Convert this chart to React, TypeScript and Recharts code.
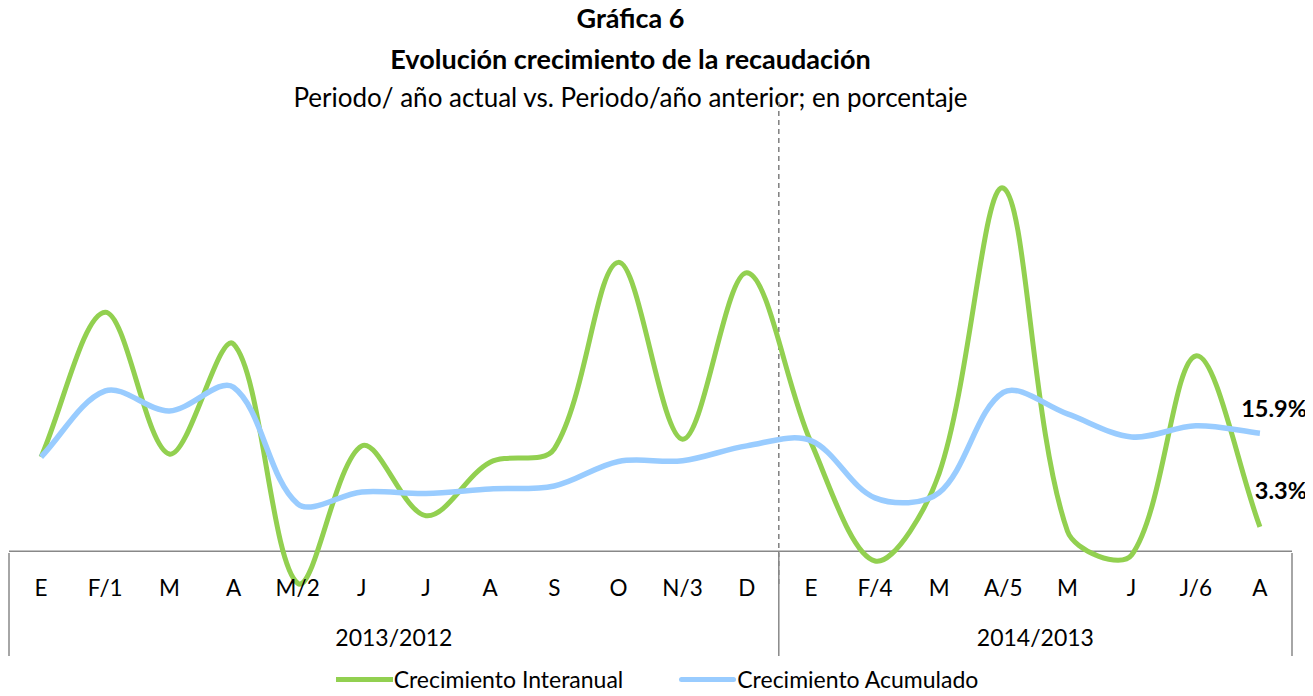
import React from "react";
import { LineChart, Line, XAxis, YAxis, ReferenceLine, Legend } from "recharts";

const months = ["E", "F/1", "M", "A", "M/2", "J", "J", "A", "S", "O", "N/3", "D", "E", "F/4", "M", "A/5", "M", "J", "J/6", "A"];
const yearGroups = ["2013/2012", "2014/2013"];
const groupSizes = [12, 8];
const interanual = [12.7, 32.2, 13.1, 27.9, -4.3, 14.2, 4.8, 12.0, 13.8, 38.9, 15.1, 37.5, 14.7, -1.3, 10.5, 48.9, 2.7, -0.5, 26.3, 3.3];
const acumulado = [12.7, 21.6, 18.9, 22.1, 6.4, 8.0, 7.8, 8.4, 8.8, 12.1, 12.2, 14.2, 14.9, 7.2, 7.9, 21.4, 18.5, 15.4, 16.9, 15.9];

const data = months.map((m, i) => ({
    key: String(i),
    interanual: interanual[i],
    acumulado: acumulado[i],
}));

const W = 1313;
const H = 696;
const MARGIN = { top: 96, right: 21, left: 9, bottom: 0 };
const BW = (W - MARGIN.left - MARGIN.right) / months.length;
const FONT = "Lato, 'Open Sans', sans-serif";
const GREEN = "#92D050";
const BLUE = "#99CCFF";
const GRID = "#888888";

// Excel-like smoothing: bezier through every point, tangents scaled by chord lengths
const excelCurve = (context: any) => {
    let xs: number[] = [];
    let ys: number[] = [];
    return {
        areaStart() {},
        areaEnd() {},
        lineStart() {
            xs = [];
            ys = [];
        },
        point(x: number, y: number) {
            xs.push(+x);
            ys.push(+y);
        },
        lineEnd() {
            const n = xs.length;
            if (!n) return;
            const d = (a: number, b: number) => Math.hypot(xs[b] - xs[a], ys[b] - ys[a]);
            context.moveTo(xs[0], ys[0]);
            for (let i = 0; i < n - 1; i++) {
                const p = i > 0 ? i - 1 : i;
                const q = i + 2 < n ? i + 2 : i + 1;
                const dSeg = d(i, i + 1);
                const dPrev = d(p, i);
                const dNext = d(i + 1, q);
                const f1 = dPrev + dSeg > 0 ? dSeg / (dPrev + dSeg) / 3 : 0;
                const f2 = dSeg + dNext > 0 ? dSeg / (dSeg + dNext) / 3 : 0;
                context.bezierCurveTo(
                    xs[i] + (xs[i + 1] - xs[p]) * f1,
                    ys[i] + (ys[i + 1] - ys[p]) * f1,
                    xs[i + 1] - (xs[q] - xs[i]) * f2,
                    ys[i + 1] - (ys[q] - ys[i]) * f2,
                    xs[i + 1],
                    ys[i + 1]
                );
            }
        },
    };
};

const groupStarts = groupSizes.map((_, g) => groupSizes.slice(0, g).reduce((a, b) => a + b, 0));

const CategoryTick = ({ x, payload }: any) => {
    const i = Number(payload.value);
    const g = groupStarts.indexOf(i);
    const isLast = i === months.length - 1;
    return (
        <g>
            <text x={x} y={596} textAnchor="middle" fontFamily={FONT} fontSize={22.5} fill="#000">
                {months[i]}
            </text>
            {g >= 0 && (
                <>
                    <line x1={x - BW / 2} x2={x - BW / 2} y1={553} y2={656} stroke={GRID} strokeWidth={1.5} />
                    <text
                        x={x - BW / 2 + (groupSizes[g] * BW) / 2}
                        y={646}
                        textAnchor="middle"
                        fontFamily={FONT}
                        fontSize={23}
                        fill="#000"
                    >
                        {yearGroups[g]}
                    </text>
                </>
            )}
            {isLast && <line x1={x + BW / 2} x2={x + BW / 2} y1={553} y2={656} stroke={GRID} strokeWidth={1.5} />}
        </g>
    );
};

const endLabel = (dy: number, fmt: number[]) => (props: any) => {
    const { x, y, index } = props;
    if (index !== fmt.length - 1) return null;
    return (
        <text x={x + 47} y={y + dy} textAnchor="end" fontFamily={FONT} fontSize={23.5} fontWeight="bold" fill="#000">
            {fmt[index].toFixed(1)}%
        </text>
    );
};

const LegendContent = () => (
    <div
        style={{
            display: "flex",
            justifyContent: "center",
            alignItems: "center",
            fontFamily: FONT,
            fontSize: 23,
            height: 24,
            lineHeight: "24px",
            paddingLeft: 13,
            margin: 0,
        }}
    >
        <span style={{ display: "inline-block", width: 57, height: 5, background: GREEN, marginRight: 1 }} />
        <span style={{ marginRight: 56 }}>Crecimiento Interanual</span>
        <span style={{ display: "inline-block", width: 57, height: 5, background: BLUE, borderRadius: 3, marginRight: 1 }} />
        <span>Crecimiento Acumulado</span>
    </div>
);

const titleStyle: React.CSSProperties = {
    position: "absolute",
    left: 0,
    width: 1261,
    textAlign: "center",
    fontFamily: FONT,
    fontSize: 27,
    lineHeight: "32px",
    color: "#000",
};

export default function App() {
    return (
        <div style={{ position: "relative", width: W, height: H, margin: -8, background: "#fff" }}>
            <div style={{ ...titleStyle, top: 2, fontWeight: "bold" }}>Gráfica 6</div>
            <div style={{ ...titleStyle, top: 43, fontWeight: "bold" }}>Evolución crecimiento de la recaudación</div>
            <div style={{ ...titleStyle, top: 81, fontSize: 26 }}>Periodo/ año actual vs. Periodo/año anterior; en porcentaje</div>
            <LineChart width={W} height={H} data={data} margin={MARGIN}>
                <XAxis
                    dataKey="key"
                    scale="band"
                    axisLine={false}
                    tickLine={false}
                    height={88}
                    interval={0}
                    tick={<CategoryTick />}
                />
                <YAxis hide domain={[-4.4, 61.3]} />
                <ReferenceLine y={0} stroke={GRID} strokeWidth={1.5} />
                <ReferenceLine x={data[11].key} position="end" stroke="#7f7f7f" strokeWidth={1.5} strokeDasharray="5 4" />
                <Line
                    dataKey="interanual"
                    type={excelCurve as any}
                    stroke={GREEN}
                    strokeWidth={5}
                    dot={false}
                    isAnimationActive={false}
                    label={endLabel(-28, interanual)}
                />
                <Line
                    dataKey="acumulado"
                    type={excelCurve as any}
                    stroke={BLUE}
                    strokeWidth={5.5}
                    dot={false}
                    isAnimationActive={false}
                    label={endLabel(-16, acumulado)}
                />
                <Legend
                    verticalAlign="bottom"
                    height={22}
                    wrapperStyle={{ top: 667, bottom: "auto", height: 24 }}
                    content={<LegendContent />}
                />
            </LineChart>
        </div>
    );
}
